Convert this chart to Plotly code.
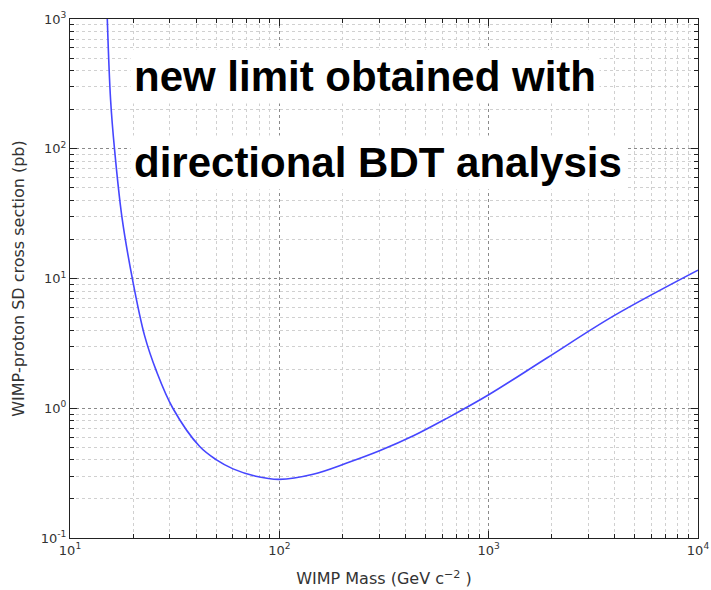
import plotly.graph_objects as go

# WIMP-proton spin-dependent exclusion limit from the directional BDT analysis
wimp_mass_gev = [15.07, 15.63, 16.33, 17.69, 19.85, 22.73, 25.85, 31.0, 41.65, 50.1,
                 60.1, 77.2, 100, 145, 210, 303, 437, 631, 1000, 1897, 3954, 10000]
sigma_sd_pb = [1000, 237.7, 97.9, 30.0, 10.0, 3.61, 1.94, 1.0, 0.507, 0.400,
               0.341, 0.299, 0.283, 0.310, 0.378, 0.472, 0.613, 0.836, 1.27, 2.44,
               5.15, 11.6]

x_major = [10, 100, 1000, 10000]
x_major_text = ["10<sup>1</sup>", "10<sup>2</sup>", "10<sup>3</sup>", "10<sup>4</sup>"]
y_major = [0.1, 1, 10, 100, 1000]
y_major_text = ["10<sup>-1</sup>", "10<sup>0</sup>", "10<sup>1</sup>",
                "10<sup>2</sup>", "10<sup>3</sup>"]

x_minor = [k * 10 ** e for e in range(1, 4) for k in range(2, 10)]
y_minor = [k * 10 ** e for e in range(-1, 3) for k in range(2, 10)]

annotation_lines = ["new limit obtained with", "directional BDT analysis"]

fig = go.Figure()
fig.add_trace(go.Scatter(
    x=wimp_mass_gev, y=sigma_sd_pb, mode="lines",
    line=dict(color="rgb(70,70,255)", width=1.6, shape="spline", smoothing=1.0),
    hoverinfo="x+y", showlegend=False,
))

axis_common = dict(
    type="log", automargin=False,
    showline=True, linecolor="#222222", linewidth=1.2, mirror="ticks",
    ticks="inside", ticklen=7, tickwidth=1, tickcolor="#222222",
    showgrid=True, gridcolor="#8a8a8a", griddash="dot", gridwidth=1,
    zeroline=False,
    tickfont=dict(family="DejaVu Sans", size=13, color="#333333"),
)

fig.update_xaxes(
    **axis_common,
    range=[1, 4],
    tickmode="array", tickvals=x_major, ticktext=x_major_text,
    minor=dict(tickmode="array", tickvals=x_minor, ticks="inside", ticklen=4,
               tickcolor="#222222", showgrid=True, gridcolor="#d0d0d0",
               griddash="dot", gridwidth=1),
    title=dict(text="WIMP Mass (GeV c<sup>−2</sup> )",
               font=dict(family="DejaVu Sans", size=16, color="#333333"),
               standoff=16),
)
fig.update_yaxes(
    **axis_common,
    range=[-1, 3],
    tickmode="array", tickvals=y_major, ticktext=y_major_text,
    minor=dict(tickmode="array", tickvals=y_minor, ticks="inside", ticklen=4,
               tickcolor="#222222", showgrid=True, gridcolor="#d0d0d0",
               griddash="dot", gridwidth=1),
    title=dict(text="WIMP-proton SD cross section (pb)",
               font=dict(family="DejaVu Sans", size=16, color="#333333"),
               standoff=12),
)

for text, ypos in zip(annotation_lines, [0.889, 0.724]):
    fig.add_annotation(
        text=text, xref="paper", yref="paper", x=0.096, y=ypos,
        xanchor="left", yanchor="middle", showarrow=False,
        font=dict(family="Liberation Sans", size=42, color="black", weight="bold"),
        bgcolor="white", borderpad=3,
    )

fig.update_layout(
    width=711, height=590,
    margin=dict(l=70, r=13, t=19, b=52),
    paper_bgcolor="white", plot_bgcolor="white",
)

fig.write_html("out.html")
